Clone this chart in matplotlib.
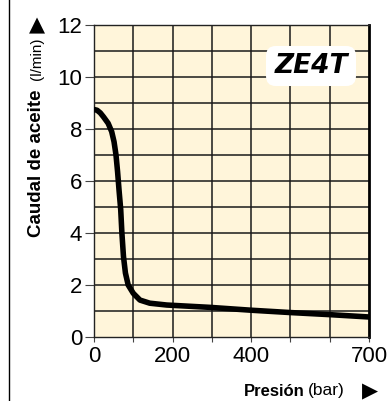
import matplotlib
matplotlib.use('Agg')
from matplotlib import pyplot as plt
from matplotlib.lines import Line2D
from matplotlib.patches import FancyBboxPatch

plt.rcParams['font.family'] = ['Liberation Sans', 'DejaVu Sans']

# curve
pressure = [0, 8, 16, 24, 36, 45, 51, 56, 60, 64, 68, 71, 75, 80, 87, 100, 117,
            142, 185, 295, 400, 500, 600, 700]
flow = [8.75, 8.72, 8.62, 8.47, 8.22, 7.9, 7.51, 7.0, 6.36, 5.6, 4.9, 4.0, 3.1,
        2.46, 2.0, 1.68, 1.42, 1.3, 1.23, 1.14, 1.03, 0.94, 0.86, 0.77]

x_ticks = [0, 200, 400, 700]
y_ticks = [0, 2, 4, 6, 8, 10, 12]
model = 'ZE4T'

W, H = 387, 401
fig = plt.figure(figsize=(W / 100, H / 100), dpi=100)
ax = fig.add_axes([94 / W, (H - 337) / H, (369 - 94) / W, (337 - 25) / H])
ax.set_facecolor('#fff5da')

ax.set_xlim(0, 700)
ax.set_ylim(0, 12)

# grid every 100 bar / 1 l/min
for xv in range(100, 700, 100):
    ax.axvline(xv, color='#1a1a1a', lw=1.1, zorder=1)
for yv in range(1, 12):
    ax.axhline(yv, color='#1a1a1a', lw=1.1, zorder=1)

ax.plot(pressure, flow, color='black', lw=4, solid_capstyle='round',
        solid_joinstyle='round', zorder=3)

ax.set_xticks(x_ticks)
ax.set_xticks(range(0, 701, 100), minor=True)
ax.set_yticks(y_ticks)
ax.tick_params(axis='y', direction='out', length=6.5, width=0.8, color='#444444',
               labelsize=16, pad=2)
ax.tick_params(axis='x', which='both', direction='out', length=3.5, width=0.8,
               color='#444444', labelsize=16, pad=3)
ax.tick_params(axis='x', which='minor', labelbottom=False)

for side in ['left', 'bottom', 'top']:
    ax.spines[side].set_color('#222222')
    ax.spines[side].set_linewidth(1.0)
ax.spines['right'].set_color('black')
ax.spines['right'].set_linewidth(2.0)

# model tag
box = FancyBboxPatch((266 / W, (H - 86) / H), 90 / W, 40 / H,
                     boxstyle='round,pad=0,rounding_size=0.025',
                     transform=fig.transFigure, facecolor='white',
                     edgecolor='none', zorder=5)
fig.patches.append(box)
fig.text(311 / W, (H - 66) / H, model, fontsize=19, fontweight='bold',
         fontstyle='italic', family='DejaVu Sans', ha='center', va='center',
         zorder=6)

# y label pieces
fig.text(37 / W, (H - 163) / H, 'Caudal de aceite', rotation=90, fontsize=13.5,
         fontweight='bold', ha='center', va='center')
fig.text(37 / W, (H - 59) / H, '(l/min)', rotation=90, fontsize=11,
         ha='center', va='center')
fig.text(37 / W, (H - 25) / H, '\u25b2', fontsize=15, family='DejaVu Sans',
         ha='center', va='center')

# x label pieces
fig.text(244 / W, (H - 391) / H, 'Presi\u00f3n', fontsize=12, fontweight='bold',
         ha='left', va='center')
fig.text(308 / W, (H - 391) / H, '(bar)', fontsize=12.5, ha='left', va='center')
fig.text(370 / W, (H - 391) / H, '\u25b6', fontsize=15, family='DejaVu Sans',
         ha='center', va='center')

fig.add_artist(Line2D([8.5 / W, 8.5 / W], [0, 1], color='black', lw=1.0,
                      transform=fig.transFigure))

plt.savefig('out.png', dpi=100)
